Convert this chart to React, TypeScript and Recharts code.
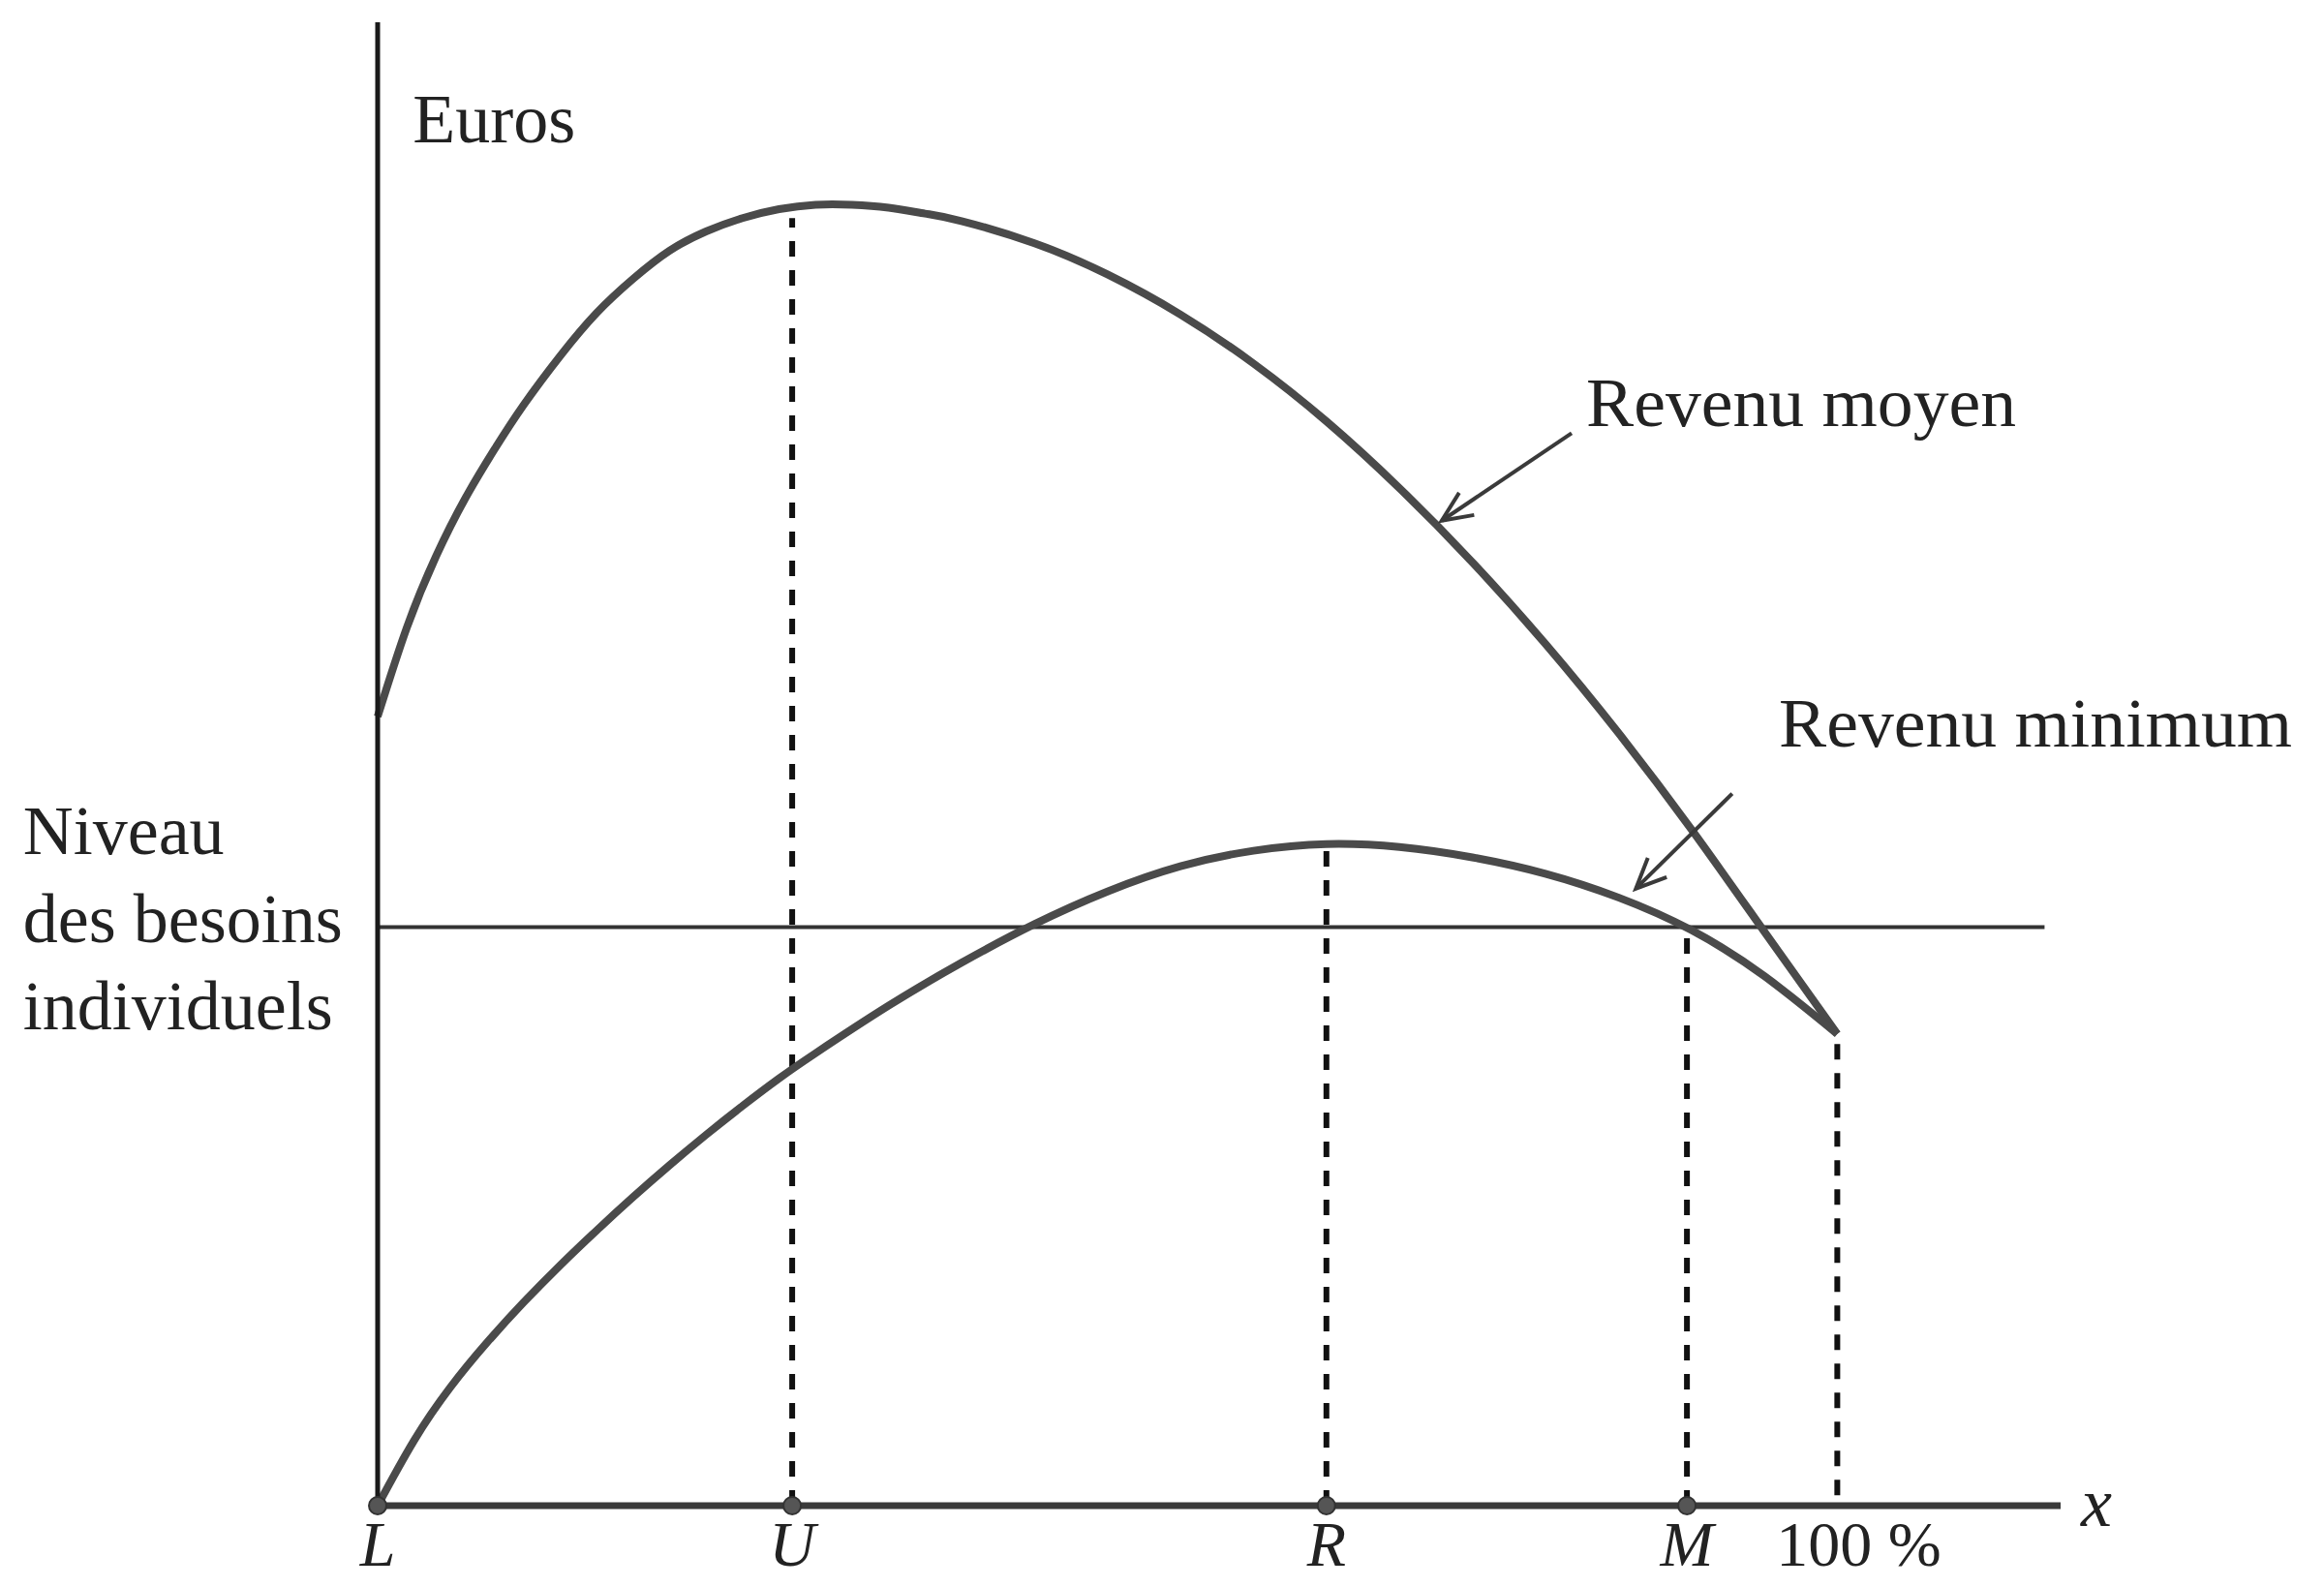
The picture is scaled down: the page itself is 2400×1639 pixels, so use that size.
import {
  LineChart,
  Line,
  XAxis,
  YAxis,
  ReferenceLine,
  ReferenceDot,
} from "recharts";

// x: share of the population (%), y: euros (arbitrary units, axis top = 100)
const MOYEN_X = [0, 2, 4, 6, 8, 10, 12.5, 15, 17.5, 20, 22.5, 25, 27.5, 30, 32.5, 35, 37.5, 40, 45, 50, 55, 60, 65, 70, 75, 80, 85, 90, 95, 100];
const MOYEN_Y = [53.2, 59.2, 64.0, 67.9, 71.2, 74.2, 77.5, 80.4, 82.7, 84.6, 85.9, 86.8, 87.4, 87.7, 87.7, 87.5, 87.1, 86.6, 85.1, 83.0, 80.3, 77.0, 73.1, 68.6, 63.6, 58.1, 52.1, 45.6, 38.7, 31.8];

const MIN_X = [0, 2.5, 5, 7.5, 10, 12.5, 15, 17.5, 20, 22.5, 25, 27.5, 30, 35, 40, 45, 50, 55, 60, 65, 70, 75, 80, 85, 90, 95, 100];
const MIN_Y = [0, 4.4, 8.0, 11.0, 13.7, 16.2, 18.55, 20.8, 22.95, 25.0, 26.95, 28.8, 30.5, 33.7, 36.6, 39.2, 41.4, 43.1, 44.15, 44.6, 44.4, 43.7, 42.6, 41.0, 38.8, 35.7, 31.8];

const NEEDS_LEVEL = 39.0;
const NEEDS_END_X = 114.2;
const X_MAX = 115.3;
const Y_MAX = 100;

// points marked on the x axis
const TICK_X = [0, 28.4, 65.0, 89.7, 100];
const TICK_LABELS = ["L", "U", "R", "M", "100 %"];
// dashed drop lines
const DROP_X = [28.4, 65.0, 89.7, 100];
const DROP_TOP = [86.8, 44.6, 39.0, 31.8];
const DROP_BOTTOM = [0, 0, 0, 0.7];

const moyenData = MOYEN_X.map((x, i) => ({ x, y: MOYEN_Y[i] }));
const minData = MIN_X.map((x, i) => ({ x, y: MIN_Y[i] }));

const FONT = "'Liberation Serif', 'DejaVu Serif', serif";
const INK = "#222";
const CURVE = "#4a4a4a";

type Note = { x: number; y: number; text: string; width?: number; italic?: boolean };
const NOTES: Note[] = [
  { x: 2.4, y: 91.9, text: "Euros" },
  { x: 82.8, y: 72.8, text: "Revenu moyen", width: 444 },
  { x: 96.0, y: 51.2, text: "Revenu minimum", width: 530 },
  { x: -24.3, y: 43.9, text: "Niveau" },
  { x: -24.3, y: 38.0, text: "des besoins" },
  { x: -24.3, y: 32.1, text: "individuels" },
  { x: 116.7, y: -1.4, text: "x", italic: true },
];

const ARROWS = [
  { from: { x: 81.8, y: 72.3 }, to: { x: 72.9, y: 66.4 } },
  { from: { x: 92.8, y: 48.0 }, to: { x: 86.2, y: 41.6 } },
];

function noteShape(note: Note) {
  return (props: any) => (
    <text
      x={props.cx}
      y={props.cy}
      fontFamily={FONT}
      fontSize={72}
      fontStyle={note.italic ? "italic" : "normal"}
      fill={INK}
      textLength={note.width}
      lengthAdjust={note.width ? "spacingAndGlyphs" : undefined}
    >
      {note.text}
    </text>
  );
}

function arrowShape(props: any) {
  const { x1, y1, x2, y2 } = props;
  const ang = Math.atan2(y2 - y1, x2 - x1);
  const len = 34;
  const spread = 0.42;
  const a1 = ang + Math.PI - spread;
  const a2 = ang + Math.PI + spread;
  return (
    <g stroke="#3a3a3a" strokeWidth={4} fill="none">
      <line x1={x1} y1={y1} x2={x2} y2={y2} />
      <polyline
        points={`${x2 + len * Math.cos(a1)},${y2 + len * Math.sin(a1)} ${x2},${y2} ${x2 + len * Math.cos(a2)},${y2 + len * Math.sin(a2)}`}
      />
    </g>
  );
}

function CategoryTick(props: any) {
  const { x, y, payload } = props;
  const i = TICK_X.indexOf(payload.value);
  const label = TICK_LABELS[i] ?? "";
  const plain = label.includes("%");
  return (
    <text
      x={x + (plain ? 22 : 0)}
      y={y}
      dy={54}
      textAnchor="middle"
      fontFamily={FONT}
      fontSize={66}
      fontStyle={plain ? "normal" : "italic"}
      fill={INK}
    >
      {label}
    </text>
  );
}

export default function App() {
  return (
    <div
      style={{
        position: "absolute",
        left: 0,
        top: 0,
        width: 2400,
        height: 1639,
        background: "#fff",
      }}
    >
      <LineChart
        width={2400}
        height={1639}
        margin={{ top: 23, right: 272, left: 330, bottom: 0 }}
      >
        <XAxis
          type="number"
          dataKey="x"
          domain={[0, X_MAX]}
          ticks={TICK_X}
          interval={0}
          height={84}
          tickLine={false}
          axisLine={{ stroke: "#3a3a3a", strokeWidth: 7 }}
          tick={<CategoryTick />}
        />
        <YAxis
          type="number"
          dataKey="y"
          domain={[0, Y_MAX]}
          width={60}
          tick={false}
          tickLine={false}
          axisLine={{ stroke: "#1a1a1a", strokeWidth: 5 }}
        />

        <ReferenceLine
          segment={[
            { x: 0, y: NEEDS_LEVEL },
            { x: NEEDS_END_X, y: NEEDS_LEVEL },
          ]}
          stroke="#333"
          strokeWidth={4}
        />

        {DROP_X.map((x, i) => (
          <ReferenceLine
            key={`drop-${i}`}
            segment={[
              { x, y: DROP_BOTTOM[i] },
              { x, y: DROP_TOP[i] },
            ]}
            stroke="#111"
            strokeWidth={6}
            strokeDasharray="16 14"
          />
        ))}

        <Line
          data={moyenData}
          dataKey="y"
          type="natural"
          stroke={CURVE}
          strokeWidth={8}
          dot={false}
          activeDot={false}
          isAnimationActive={false}
        />
        <Line
          data={minData}
          dataKey="y"
          type="natural"
          stroke={CURVE}
          strokeWidth={8}
          dot={false}
          activeDot={false}
          isAnimationActive={false}
        />

        {TICK_X.slice(0, 4).map((x, i) => (
          <ReferenceDot
            key={`pt-${i}`}
            x={x}
            y={0}
            r={9}
            fill="#555"
            stroke="#333"
            strokeWidth={2}
          />
        ))}

        {ARROWS.map((a, i) => (
          <ReferenceLine
            key={`arrow-${i}`}
            segment={[a.from, a.to]}
            ifOverflow="visible"
            shape={arrowShape}
          />
        ))}

        {NOTES.map((n, i) => (
          <ReferenceDot
            key={`note-${i}`}
            x={n.x}
            y={n.y}
            r={0}
            ifOverflow="visible"
            shape={noteShape(n)}
          />
        ))}
      </LineChart>
    </div>
  );
}
